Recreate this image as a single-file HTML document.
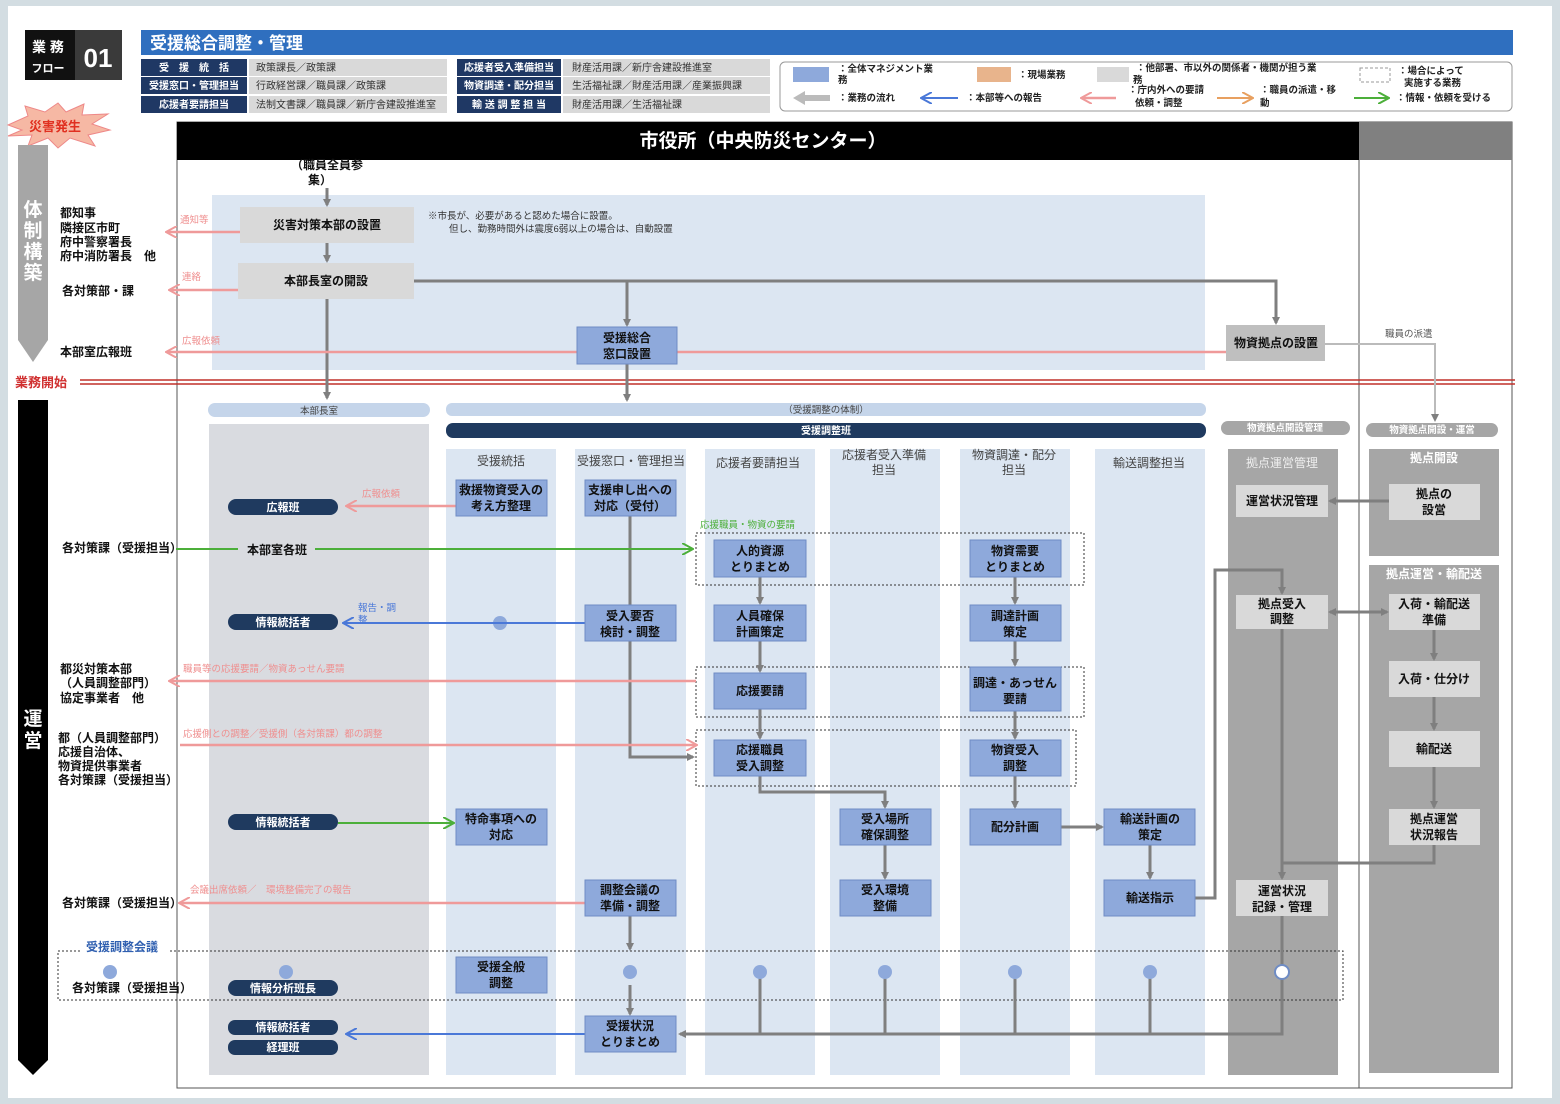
<!DOCTYPE html>
<html><head><meta charset="utf-8">
<style>
html,body{margin:0;padding:0;background:#fff;}
svg{display:block;font-family:"Liberation Sans","Noto Sans CJK JP",sans-serif;}
.nb{fill:#8ea9db;stroke:#6f8cc4;stroke-width:1}
.ng{fill:#d9d9d9}
.nl{fill:#d9d9d9}
.t{font-size:12px;font-weight:bold;fill:#111;text-anchor:middle}
.tl{font-size:12px;font-weight:bold;fill:#111}
.g{stroke:#7f7f7f;stroke-width:3;fill:none}
.pk{stroke:#ef9a9a;stroke-width:2.5;fill:none}
.bl{stroke:#4a78d8;stroke-width:2;fill:none}
.gr{stroke:#4caf3a;stroke-width:2;fill:none}
.pkt{font-size:9.5px;fill:#ef8f8f}
.ch{font-size:12px;fill:#444;text-anchor:middle}
.pill{fill:#1f3a5f}
.pt{font-size:11px;font-weight:bold;fill:#fff;text-anchor:middle}
</style></head><body>
<svg width="1560" height="1104" viewBox="0 0 1560 1104" xmlns="http://www.w3.org/2000/svg">
<defs>
<marker id="ag" markerWidth="8" markerHeight="8" refX="6" refY="4" orient="auto-start-reverse" markerUnits="userSpaceOnUse"><path d="M0,0 L8,4 L0,8 z" fill="#7f7f7f"/></marker>
<marker id="ap" markerWidth="12" markerHeight="12" refX="10" refY="6" orient="auto-start-reverse" markerUnits="userSpaceOnUse"><path d="M0,0 L11,6 L0,12" fill="none" stroke="#ef9a9a" stroke-width="2"/></marker>
<marker id="ab" markerWidth="12" markerHeight="12" refX="10" refY="6" orient="auto-start-reverse" markerUnits="userSpaceOnUse"><path d="M0,0 L11,6 L0,12" fill="none" stroke="#4a78d8" stroke-width="2"/></marker>
<marker id="agr" markerWidth="12" markerHeight="12" refX="10" refY="6" orient="auto-start-reverse" markerUnits="userSpaceOnUse"><path d="M0,0 L11,6 L0,12" fill="none" stroke="#4caf3a" stroke-width="2"/></marker>
<marker id="ao" markerWidth="12" markerHeight="12" refX="10" refY="6" orient="auto-start-reverse" markerUnits="userSpaceOnUse"><path d="M0,0 L11,6 L0,12" fill="none" stroke="#e8a060" stroke-width="2"/></marker>
</defs>
<rect x="0" y="0" width="1560" height="1104" fill="#d3dde2"/>
<rect x="8" y="6" width="1544" height="1092" fill="#fff"/>

<rect x="25" y="30" width="50" height="50" fill="#111"/>
<text x="48" y="52" font-size="14" font-weight="bold" fill="#fff" text-anchor="middle">業 務</text>
<text x="48" y="72" font-size="11" font-weight="bold" fill="#fff" text-anchor="middle">フロー</text>
<rect x="75" y="30" width="47" height="50" fill="#3a3a3a"/>
<text x="98" y="67" font-size="26" font-weight="bold" fill="#fff" text-anchor="middle">01</text>
<rect x="141" y="30" width="1372" height="25" fill="#2f6fbf"/>
<text x="150" y="49" font-size="17" font-weight="bold" fill="#fff">受援総合調整・管理</text>
<g font-size="10">
<rect x="141" y="59" width="106" height="17" fill="#1f3864"/><text x="194" y="71" fill="#fff" font-weight="bold" text-anchor="middle">受　援　統　括</text>
<rect x="249" y="59" width="198" height="17" fill="#d9d9d9"/><text x="256" y="71" fill="#333">政策課長／政策課</text>
<rect x="141" y="77" width="106" height="17" fill="#1f3864"/><text x="194" y="89" fill="#fff" font-weight="bold" text-anchor="middle">受援窓口・管理担当</text>
<rect x="249" y="77" width="198" height="17" fill="#d9d9d9"/><text x="256" y="89" fill="#333">行政経営課／職員課／政策課</text>
<rect x="141" y="96" width="106" height="17" fill="#1f3864"/><text x="194" y="108" fill="#fff" font-weight="bold" text-anchor="middle">応援者要請担当</text>
<rect x="249" y="96" width="198" height="17" fill="#d9d9d9"/><text x="256" y="108" fill="#333">法制文書課／職員課／新庁舎建設推進室</text>
<rect x="457" y="59" width="104" height="17" fill="#1f3864"/><text x="509" y="71" fill="#fff" font-weight="bold" text-anchor="middle">応援者受入準備担当</text>
<rect x="563" y="59" width="207" height="17" fill="#d9d9d9"/><text x="572" y="71" fill="#333">財産活用課／新庁舎建設推進室</text>
<rect x="457" y="77" width="104" height="17" fill="#1f3864"/><text x="509" y="89" fill="#fff" font-weight="bold" text-anchor="middle">物資調達・配分担当</text>
<rect x="563" y="77" width="207" height="17" fill="#d9d9d9"/><text x="572" y="89" fill="#333">生活福祉課／財産活用課／産業振興課</text>
<rect x="457" y="96" width="104" height="17" fill="#1f3864"/><text x="509" y="108" fill="#fff" font-weight="bold" text-anchor="middle">輸 送 調 整 担 当</text>
<rect x="563" y="96" width="207" height="17" fill="#d9d9d9"/><text x="572" y="108" fill="#333">財産活用課／生活福祉課</text>
</g>
<rect x="780" y="62" width="732" height="49" rx="5" fill="#fff" stroke="#999"/>
<g font-size="9.5" fill="#222" font-weight="bold">
<rect x="793" y="67" width="36" height="15" fill="#8ea9db"/><text x="838" y="72">：全体マネジメント業</text><text x="838" y="83">務</text>
<rect x="977" y="67" width="34" height="15" fill="#e8b48c"/><text x="1018" y="78">：現場業務</text>
<rect x="1097" y="67" width="32" height="15" fill="#d9d9d9"/><text x="1136" y="71">：他部署、市以外の関係者・機関が担う業</text><text x="1133" y="83">務</text>
<rect x="1360" y="68" width="30" height="14" fill="none" stroke="#999" stroke-dasharray="3,2"/><text x="1398" y="74">：場合によって</text><text x="1404" y="86">実施する業務</text>
<path d="M793,98 L805,91 L805,95 L830,95 L830,101 L805,101 L805,105 z" fill="#bbb"/><text x="838" y="101">：業務の流れ</text>
<line x1="922" y1="98" x2="958" y2="98" class="bl" marker-start="url(#ab)"/><text x="966" y="101">：本部等への報告</text>
<line x1="1082" y1="98" x2="1116" y2="98" class="pk" marker-start="url(#ap)"/><text x="1128" y="93">：庁内外への要請</text><text x="1135" y="106">依頼・調整</text>
<line x1="1217" y1="98" x2="1252" y2="98" stroke="#e8a060" stroke-width="2" marker-end="url(#ao)"/><text x="1260" y="93">：職員の派遣・移</text><text x="1260" y="106">動</text>
<line x1="1354" y1="98" x2="1388" y2="98" class="gr" marker-end="url(#agr)"/><text x="1396" y="101">：情報・依頼を受ける</text>
</g>

<polygon points="8,125 28,116 25,106 45,112 58,103 66,112 84,104 82,115 108,114 92,124 110,130 88,135 95,146 70,138 58,148 48,138 28,146 32,135 8,136 22,130" fill="#f6b8a4" stroke="#e88" stroke-width="1"/>
<text x="55" y="131" font-size="13" font-weight="bold" fill="#e03020" text-anchor="middle">災害発生</text>
<path d="M18,145 L48,145 L48,340 L33,362 L18,340 z" fill="#a6a6a6"/>
<g font-size="19" font-weight="bold" fill="#fff" text-anchor="middle"><text x="33" y="216">体</text><text x="33" y="237">制</text><text x="33" y="258">構</text><text x="33" y="279">築</text></g>
<path d="M18,400 L48,400 L48,1060 L33,1075 L18,1060 z" fill="#000"/>
<g font-size="19" font-weight="bold" fill="#fff" text-anchor="middle"><text x="33" y="725">運</text><text x="33" y="747">営</text></g>

<rect x="177" y="122" width="1335" height="966" fill="#fff" stroke="#555" stroke-width="1"/>
<rect x="177" y="122" width="1182" height="38" fill="#000"/>
<text x="763" y="147" font-size="19" font-weight="bold" fill="#fff" text-anchor="middle">市役所（中央防災センター）</text>
<rect x="1359" y="122" width="153" height="38" fill="#808080"/>
<line x1="1359" y1="160" x2="1359" y2="1088" stroke="#555"/>
<rect x="212" y="195" width="993" height="175" fill="#dce6f2"/>

<line x1="80" y1="380" x2="1515" y2="380" stroke="#c0302a" stroke-width="1.5"/>
<line x1="80" y1="384" x2="1515" y2="384" stroke="#c0302a" stroke-width="1.5"/>
<text x="15" y="387" font-size="13" font-weight="bold" fill="#d03030">業務開始</text>

<rect x="208" y="403" width="222" height="14" rx="7" fill="#c5d5ea"/><text x="319" y="414" font-size="9.5" text-anchor="middle" fill="#444">本部長室</text>
<rect x="209" y="424" width="220" height="651" fill="#d9dbe0"/>
<rect x="446" y="403" width="760" height="13" rx="6" fill="#c5d5ea"/><text x="826" y="413" font-size="9.5" text-anchor="middle" fill="#444">（受援調整の体制）</text>
<rect x="446" y="423" width="760" height="15" rx="7" fill="#1f3a5f"/><text x="826" y="434" font-size="10" font-weight="bold" text-anchor="middle" fill="#fff">受援調整班</text>
<g fill="#dce6f2">
<rect x="446" y="449" width="110" height="626"/><rect x="575" y="449" width="111" height="626"/><rect x="705" y="449" width="110" height="626"/>
<rect x="830" y="449" width="110" height="626"/><rect x="960" y="449" width="110" height="626"/><rect x="1095" y="449" width="110" height="626"/>
</g>
<text x="501" y="465" class="ch">受援統括</text>
<text x="631" y="465" class="ch">受援窓口・管理担当</text>
<text x="758" y="467" class="ch">応援者要請担当</text>
<text x="884" y="459" class="ch">応援者受入準備</text><text x="884" y="474" class="ch">担当</text>
<text x="1014" y="459" class="ch">物資調達・配分</text><text x="1014" y="474" class="ch">担当</text>
<text x="1149" y="467" class="ch">輸送調整担当</text>
<rect x="1221" y="421" width="129" height="14" rx="7" fill="#a6a6a6"/><text x="1285" y="431" font-size="9.5" font-weight="bold" text-anchor="middle" fill="#fff">物資拠点開設管理</text>
<rect x="1228" y="449" width="110" height="626" fill="#a6a6a6"/>
<text x="1282" y="467" font-size="12" text-anchor="middle" fill="#eee">拠点運営管理</text>
<rect x="1366" y="423" width="132" height="14" rx="7" fill="#a6a6a6"/><text x="1432" y="433" font-size="9.5" font-weight="bold" text-anchor="middle" fill="#fff">物資拠点開設・運営</text>
<rect x="1369" y="449" width="130" height="107" fill="#a6a6a6"/>
<text x="1434" y="462" font-size="12" font-weight="bold" text-anchor="middle" fill="#fff">拠点開設</text>
<rect x="1369" y="565" width="130" height="508" fill="#a6a6a6"/>
<text x="1434" y="578" font-size="12" font-weight="bold" text-anchor="middle" fill="#fff">拠点運営・輸配送</text>

<g fill="none" stroke="#333" stroke-dasharray="2,2">
<rect x="696" y="533" width="388" height="52"/>
<rect x="696" y="667" width="388" height="50"/>
<rect x="696" y="730" width="380" height="56"/>
<rect x="58" y="951" width="1285" height="49"/>
</g>
<rect x="82" y="940" width="88" height="14" fill="#fff"/>
<text x="86" y="951" font-size="12" font-weight="bold" fill="#2f5fb0">受援調整会議</text>

<line x1="327" y1="188" x2="327" y2="205" class="g" marker-end="url(#ag)"/>
<line x1="327" y1="243" x2="327" y2="261" class="g" marker-end="url(#ag)"/>
<line x1="327" y1="299" x2="327" y2="398" class="g" marker-end="url(#ag)"/>
<polyline points="414,281 1276,281 1276,323" class="g" marker-end="url(#ag)"/>
<line x1="627" y1="281" x2="627" y2="325" class="g" marker-end="url(#ag)"/>
<line x1="627" y1="364" x2="627" y2="400" class="g" marker-end="url(#ag)"/>
<polyline points="1325,344 1435,344 1435,420" stroke="#bbb" stroke-width="2" fill="none" marker-end="url(#ag)"/>
<text x="1385" y="337" font-size="9.5" fill="#555">職員の派遣</text>
<polyline points="630,516 630,757 693,757" class="g" marker-end="url(#ag)"/>
<line x1="760" y1="577" x2="760" y2="603" class="g" marker-end="url(#ag)"/>
<line x1="760" y1="641" x2="760" y2="671" class="g" marker-end="url(#ag)"/>
<line x1="760" y1="709" x2="760" y2="738" class="g" marker-end="url(#ag)"/>
<line x1="1015" y1="577" x2="1015" y2="603" class="g" marker-end="url(#ag)"/>
<line x1="1015" y1="641" x2="1015" y2="665" class="g" marker-end="url(#ag)"/>
<line x1="1015" y1="711" x2="1015" y2="738" class="g" marker-end="url(#ag)"/>
<line x1="1015" y1="776" x2="1015" y2="807" class="g" marker-end="url(#ag)"/>
<polyline points="760,776 760,792 885,792 885,807" class="g" marker-end="url(#ag)"/>
<line x1="885" y1="845" x2="885" y2="878" class="g" marker-end="url(#ag)"/>
<line x1="1061" y1="827" x2="1102" y2="827" class="g" marker-end="url(#ag)"/>
<line x1="1150" y1="845" x2="1150" y2="878" class="g" marker-end="url(#ag)"/>
<polyline points="1195,898 1215,898 1215,570 1282,570 1282,593" class="g" marker-end="url(#ag)"/>
<line x1="1330" y1="612" x2="1387" y2="612" class="g" marker-start="url(#ag)" marker-end="url(#ag)"/>
<line x1="1389" y1="501" x2="1330" y2="501" class="g" marker-end="url(#ag)"/>
<line x1="1434" y1="630" x2="1434" y2="659" class="g" marker-end="url(#ag)"/>
<line x1="1434" y1="697" x2="1434" y2="729" class="g" marker-end="url(#ag)"/>
<line x1="1434" y1="767" x2="1434" y2="807" class="g" marker-end="url(#ag)"/>
<polyline points="1434,845 1434,863 1282,863" class="g"/>
<line x1="1282" y1="629" x2="1282" y2="878" class="g" marker-end="url(#ag)"/>
<line x1="630" y1="916" x2="630" y2="949" class="g" marker-end="url(#ag)"/>
<line x1="630" y1="985" x2="630" y2="1014" class="g" marker-end="url(#ag)"/>
<polyline points="760,972 760,1034" class="g"/>
<polyline points="885,972 885,1034" class="g"/>
<polyline points="1015,972 1015,1034" class="g"/>
<polyline points="1150,972 1150,1034" class="g"/>
<polyline points="1282,916 1282,1034 680,1034" class="g" marker-end="url(#ag)"/>

<g fill="#8ea9db"><circle cx="110" cy="972" r="7"/><circle cx="286" cy="972" r="7"/><circle cx="630" cy="972" r="7"/><circle cx="760" cy="972" r="7"/><circle cx="885" cy="972" r="7"/><circle cx="1015" cy="972" r="7"/><circle cx="1150" cy="972" r="7"/><circle cx="500" cy="623" r="7"/></g>
<circle cx="1282" cy="972" r="7" fill="#fff" stroke="#6f8cc4" stroke-width="2"/>

<line x1="240" y1="232" x2="167" y2="232" class="pk" marker-end="url(#ap)"/><text x="180" y="223" class="pkt">通知等</text>
<line x1="238" y1="290" x2="170" y2="290" class="pk" marker-end="url(#ap)"/><text x="182" y="280" class="pkt">連絡</text>
<line x1="1226" y1="352" x2="167" y2="352" class="pk" marker-end="url(#ap)"/><text x="182" y="344" class="pkt">広報依頼</text>
<line x1="456" y1="506" x2="347" y2="506" class="pk" marker-end="url(#ap)"/><text x="362" y="497" class="pkt">広報依頼</text>
<line x1="696" y1="681" x2="170" y2="681" class="pk" marker-end="url(#ap)"/><text x="183" y="672" class="pkt">職員等の応援要請／物資あっせん要請</text>
<line x1="180" y1="745" x2="696" y2="745" class="pk" marker-end="url(#ap)"/><text x="183" y="737" class="pkt">応援側との調整／受援側（各対策課）都の調整</text>
<line x1="585" y1="903" x2="180" y2="903" class="pk" marker-end="url(#ap)"/><text x="190" y="893" class="pkt">会議出席依頼／　環境整備完了の報告</text>
<line x1="585" y1="623" x2="344" y2="623" class="bl" marker-end="url(#ab)"/><text x="358" y="611" font-size="9.5" fill="#4a78d8">報告・調</text><text x="358" y="623" font-size="9.5" fill="#4a78d8">整</text>
<line x1="585" y1="1034" x2="347" y2="1034" class="bl" marker-end="url(#ab)"/>
<line x1="176" y1="549" x2="238" y2="549" class="gr"/>
<line x1="315" y1="549" x2="692" y2="549" class="gr" marker-end="url(#agr)"/>
<line x1="338" y1="823" x2="453" y2="823" class="gr" marker-end="url(#agr)"/>
<text x="700" y="528" font-size="9.5" fill="#4caf3a">応援職員・物資の要請</text>

<text x="327" y="169" class="t">（職員全員参</text><text x="320" y="184" class="t">集）</text>
<text x="428" y="219" font-size="9.5" fill="#333">※市長が、必要があると認めた場合に設置。</text>
<text x="449" y="232" font-size="9.5" fill="#333">但し、勤務時間外は震度6弱以上の場合は、自動設置</text>

<rect x="240" y="207" width="174" height="36" class="ng"/><text x="327" y="229" class="t">災害対策本部の設置</text>
<rect x="238" y="263" width="176" height="36" class="ng"/><text x="326" y="285" class="t">本部長室の開設</text>
<rect x="1226" y="325" width="99" height="36" fill="#bfbfbf"/><text x="1276" y="347" class="t">物資拠点の設置</text>
<rect x="1236" y="485" width="92" height="32" class="nl"/><text x="1282" y="505" class="t">運営状況管理</text>
<rect x="1236" y="595" width="92" height="34" class="nl"/><text x="1282" y="608" class="t">拠点受入</text><text x="1282" y="623" class="t">調整</text>
<rect x="1236" y="880" width="92" height="36" class="nl"/><text x="1282" y="895" class="t">運営状況</text><text x="1282" y="911" class="t">記録・管理</text>
<rect x="1389" y="484" width="91" height="36" class="nl"/><text x="1434" y="498" class="t">拠点の</text><text x="1434" y="514" class="t">設営</text>
<rect x="1389" y="594" width="91" height="36" class="nl"/><text x="1434" y="608" class="t">入荷・輸配送</text><text x="1434" y="624" class="t">準備</text>
<rect x="1389" y="661" width="91" height="36" class="nl"/><text x="1434" y="683" class="t">入荷・仕分け</text>
<rect x="1389" y="731" width="91" height="36" class="nl"/><text x="1434" y="753" class="t">輸配送</text>
<rect x="1389" y="809" width="91" height="36" class="nl"/><text x="1434" y="823" class="t">拠点運営</text><text x="1434" y="839" class="t">状況報告</text>

<rect x="577" y="327" width="100" height="37" class="nb"/><text x="627" y="342" class="t">受援総合</text><text x="627" y="358" class="t">窓口設置</text>
<rect x="456" y="480" width="91" height="36" class="nb"/><text x="501" y="494" class="t">救援物資受入の</text><text x="501" y="510" class="t">考え方整理</text>
<rect x="585" y="480" width="91" height="36" class="nb"/><text x="630" y="494" class="t">支援申し出への</text><text x="630" y="510" class="t">対応（受付）</text>
<rect x="714" y="540" width="92" height="37" class="nb"/><text x="760" y="555" class="t">人的資源</text><text x="760" y="571" class="t">とりまとめ</text>
<rect x="970" y="540" width="91" height="37" class="nb"/><text x="1015" y="555" class="t">物資需要</text><text x="1015" y="571" class="t">とりまとめ</text>
<rect x="585" y="605" width="91" height="36" class="nb"/><text x="630" y="620" class="t">受入要否</text><text x="630" y="636" class="t">検討・調整</text>
<rect x="714" y="605" width="92" height="36" class="nb"/><text x="760" y="620" class="t">人員確保</text><text x="760" y="636" class="t">計画策定</text>
<rect x="970" y="605" width="91" height="36" class="nb"/><text x="1015" y="620" class="t">調達計画</text><text x="1015" y="636" class="t">策定</text>
<rect x="714" y="673" width="92" height="36" class="nb"/><text x="760" y="695" class="t">応援要請</text>
<rect x="970" y="667" width="91" height="44" class="nb"/><text x="1015" y="687" class="t">調達・あっせん</text><text x="1015" y="703" class="t">要請</text>
<rect x="714" y="740" width="92" height="36" class="nb"/><text x="760" y="754" class="t">応援職員</text><text x="760" y="770" class="t">受入調整</text>
<rect x="970" y="740" width="91" height="36" class="nb"/><text x="1015" y="754" class="t">物資受入</text><text x="1015" y="770" class="t">調整</text>
<rect x="456" y="809" width="91" height="36" class="nb"/><text x="501" y="823" class="t">特命事項への</text><text x="501" y="839" class="t">対応</text>
<rect x="840" y="809" width="91" height="36" class="nb"/><text x="885" y="823" class="t">受入場所</text><text x="885" y="839" class="t">確保調整</text>
<rect x="970" y="809" width="91" height="36" class="nb"/><text x="1015" y="831" class="t">配分計画</text>
<rect x="1104" y="809" width="91" height="36" class="nb"/><text x="1150" y="823" class="t">輸送計画の</text><text x="1150" y="839" class="t">策定</text>
<rect x="840" y="880" width="91" height="36" class="nb"/><text x="885" y="894" class="t">受入環境</text><text x="885" y="910" class="t">整備</text>
<rect x="1104" y="880" width="91" height="36" class="nb"/><text x="1150" y="902" class="t">輸送指示</text>
<rect x="585" y="880" width="91" height="36" class="nb"/><text x="630" y="894" class="t">調整会議の</text><text x="630" y="910" class="t">準備・調整</text>
<rect x="456" y="957" width="91" height="36" class="nb"/><text x="501" y="971" class="t">受援全般</text><text x="501" y="987" class="t">調整</text>
<rect x="585" y="1016" width="91" height="36" class="nb"/><text x="630" y="1030" class="t">受援状況</text><text x="630" y="1046" class="t">とりまとめ</text>

<rect x="228" y="499" width="110" height="16" rx="8" class="pill"/><text x="283" y="511" class="pt">広報班</text>
<rect x="228" y="614" width="110" height="16" rx="8" class="pill"/><text x="283" y="626" class="pt">情報統括者</text>
<rect x="228" y="814" width="110" height="16" rx="8" class="pill"/><text x="283" y="826" class="pt">情報統括者</text>
<rect x="228" y="980" width="110" height="16" rx="8" class="pill"/><text x="283" y="992" class="pt">情報分析班長</text>
<rect x="228" y="1020" width="110" height="15" rx="7" class="pill"/><text x="283" y="1031" class="pt">情報統括者</text>
<rect x="228" y="1040" width="110" height="15" rx="7" class="pill"/><text x="283" y="1051" class="pt">経理班</text>
<text x="247" y="554" class="tl">本部室各班</text>

<text x="60" y="217" class="tl">都知事</text>
<text x="60" y="232" class="tl">隣接区市町</text>
<text x="60" y="246" class="tl">府中警察署長</text>
<text x="60" y="260" class="tl">府中消防署長　他</text>
<text x="62" y="295" class="tl">各対策部・課</text>
<text x="60" y="356" class="tl">本部室広報班</text>
<text x="62" y="552" class="tl">各対策課（受援担当）</text>
<text x="60" y="673" class="tl">都災対策本部</text>
<text x="60" y="687" class="tl">（人員調整部門）</text>
<text x="60" y="702" class="tl">協定事業者　他</text>
<text x="58" y="742" class="tl">都（人員調整部門）</text>
<text x="58" y="756" class="tl">応援自治体、</text>
<text x="58" y="770" class="tl">物資提供事業者</text>
<text x="58" y="784" class="tl">各対策課（受援担当）</text>
<text x="62" y="907" class="tl">各対策課（受援担当）</text>
<text x="72" y="992" class="tl">各対策課（受援担当）</text>
</svg>
</body></html>
